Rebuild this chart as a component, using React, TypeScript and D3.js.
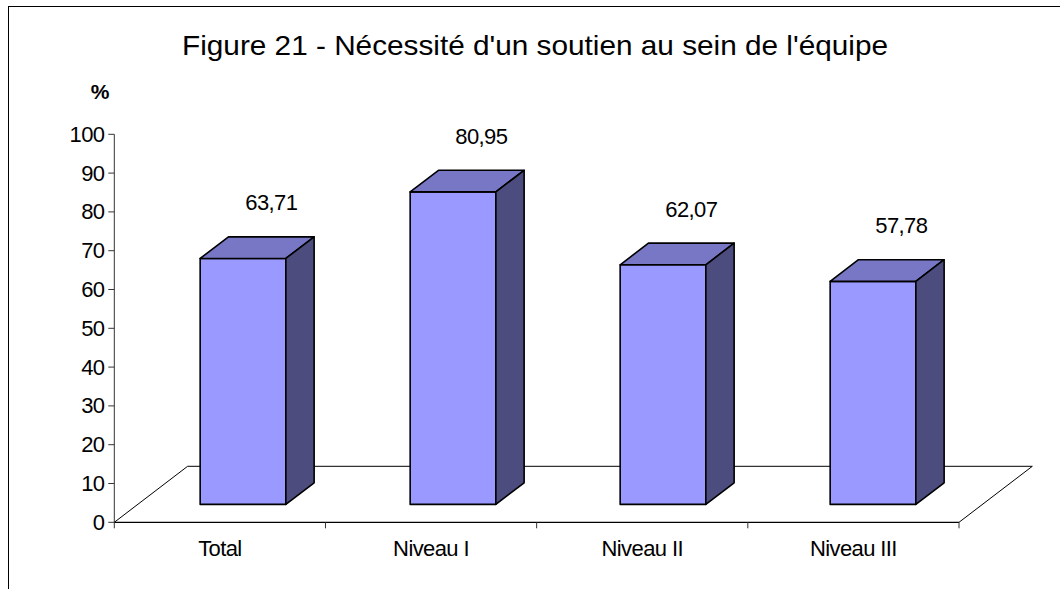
import React from "react";
import * as d3 from "d3";

// chart data
const categories = ["Total", "Niveau I", "Niveau II", "Niveau III"];
const values = [63.71, 80.95, 62.07, 57.78];
const valueLabels = ["63,71", "80,95", "62,07", "57,78"];
const yTicks = [0, 10, 20, 30, 40, 50, 60, 70, 80, 90, 100];
const title = "Figure 21 - Nécessité d'un soutien au sein de l'équipe";

const width = 1060;
const height = 589;
const font = "'Liberation Sans', Arial, sans-serif";

// 3d floor geometry
const floorDx = 73.3;
const floorDy = -56;
const barFront = 0.32; // depth fraction where bar front stands
const barDepth = 0.386; // depth fraction of bar thickness

const frontColor = "#9999ff";
const topColor = "#7777c6";
const sideColor = "#4c4c7e";

export default function App() {
  // front plane of the floor (axis + category labels)
  const x = d3
    .scaleBand<string>()
    .domain(categories)
    .range([114.3, 959])
    .paddingInner(0.594)
    .paddingOuter(0.297);

  // bars sit a bit deeper, so they are spaced a touch tighter
  const xBar = d3
    .scaleBand<string>()
    .domain(categories)
    .range([138, 978])
    .paddingInner(0.592)
    .paddingOuter(0.296);

  const y = d3.scaleLinear().domain([0, 100]).range([522.3, 134.3]);

  const y0 = y(0) + floorDy * barFront;
  const yBar = d3.scaleLinear().domain([0, 100]).range([y0, y0 - 386]);

  const bw = xBar.bandwidth();
  const dx = floorDx * barDepth;
  const dy = floorDy * barDepth;

  const x0 = x.range()[0];
  const x1 = x.range()[1];
  const yFront = y(0);
  const yBack = y(0) + floorDy;

  const step = x.step();
  const catTicks = d3.range(categories.length + 1).map((i) => x0 + i * step);

  return (
    <svg
      width={width}
      height={height}
      style={{ position: "absolute", left: 0, top: 0, background: "white" }}
    >
      {/* frame */}
      <rect x={8.5} y={6.5} width={width + 20} height={height + 20} fill="white" stroke="black" strokeWidth={1} />

      <text x={535} y={55} textAnchor="middle" fontFamily={font} fontSize={28.5} textLength={706} lengthAdjust="spacingAndGlyphs">
        {title}
      </text>

      <text x={100} y={99} textAnchor="middle" fontFamily={font} fontSize={21} fontWeight="bold">
        %
      </text>

      {/* floor */}
      <g fill="none" stroke="black" strokeWidth={1}>
        <line x1={x0} y1={yFront} x2={x0 + floorDx} y2={yBack} />
        <line x1={x0 + floorDx} y1={yBack} x2={x1 + floorDx} y2={yBack} />
        <line x1={x1 + floorDx} y1={yBack} x2={x1} y2={yFront} />
      </g>

      {/* y axis */}
      <g fontFamily={font} fontSize={22}>
        <line x1={x0} y1={y(100)} x2={x0} y2={yFront} stroke="#333" strokeWidth={1} />
        {yTicks.map((t) => (
          <g key={t}>
            <line x1={x0 - 6} y1={y(t)} x2={x0} y2={y(t)} stroke="#333" strokeWidth={1} />
            <text x={104.5} y={y(t)} dy="0.34em" textAnchor="end" letterSpacing={-0.6}>
              {t}
            </text>
          </g>
        ))}
      </g>

      {/* x axis */}
      <line x1={x0} y1={yFront} x2={x1} y2={yFront} stroke="black" strokeWidth={1.3} />
      {catTicks.map((t, i) => (
        <line key={i} x1={t} y1={yFront} x2={t} y2={yFront + 6} stroke="#333" strokeWidth={1} />
      ))}
      {categories.map((c) => (
        <text
          key={c}
          x={(x(c) as number) + x.bandwidth() / 2}
          y={556}
          textAnchor="middle"
          fontFamily={font}
          fontSize={22}
          letterSpacing={-0.6}
        >
          {c}
        </text>
      ))}

      {/* bars */}
      {categories.map((c, i) => {
        const left = xBar(c) as number;
        const right = left + bw;
        const top = yBar(values[i]);
        const bottom = yBar(0);
        const front = `M${left},${bottom}L${right},${bottom}L${right},${top}L${left},${top}Z`;
        const topFace = `M${left},${top}L${left + dx},${top + dy}L${right + dx},${top + dy}L${right},${top}Z`;
        const side = `M${right},${bottom}L${right + dx},${bottom + dy}L${right + dx},${top + dy}L${right},${top}Z`;
        return (
          <g key={c} stroke="black" strokeWidth={1.6} strokeLinejoin="round">
            <path d={front} fill={frontColor} />
            <path d={topFace} fill={topColor} />
            <path d={side} fill={sideColor} />
            <text
              x={left + bw / 2 + dx}
              y={top - 48}
              textAnchor="middle"
              fontFamily={font}
              fontSize={22}
              letterSpacing={-0.6}
              stroke="none"
              fill="black"
            >
              {valueLabels[i]}
            </text>
          </g>
        );
      })}
    </svg>
  );
}
